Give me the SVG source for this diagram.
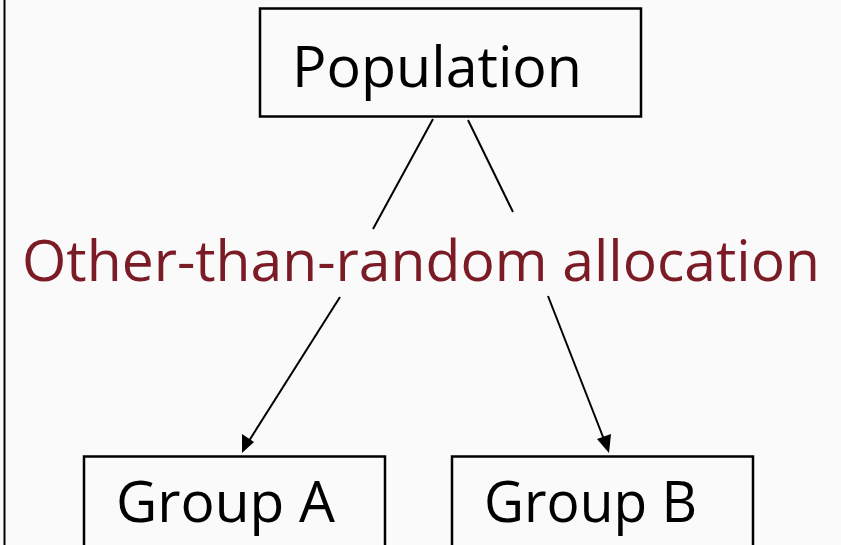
<svg xmlns="http://www.w3.org/2000/svg" width="841" height="545" viewBox="0 0 841 545">
  <style>
    .box { fill: none; stroke: #000; stroke-width: 2.5; }
    .lbl { font-family: "Open Sans", "Noto Sans", "Liberation Sans", sans-serif; font-size: 57px; fill: #000; }
    .red { fill: #7a1b25; }
    .edge { stroke: #000; stroke-width: 2; fill: none; }
  </style>
  <rect x="0" y="0" width="841" height="545" fill="#fafafa"/>
  <line x1="4.5" y1="0" x2="4.5" y2="545" stroke="#000" stroke-width="2"/>

  <g id="population">
    <rect class="box" x="260" y="8.5" width="381" height="108"/>
    <text class="lbl" x="292" y="87" textLength="290" lengthAdjust="spacingAndGlyphs">Population</text>
  </g>

  <g id="groupA">
    <rect class="box" x="84" y="456.5" width="301" height="100"/>
    <text class="lbl" x="116" y="522" textLength="219" lengthAdjust="spacingAndGlyphs">Group A</text>
  </g>

  <g id="groupB">
    <rect class="box" x="452" y="456.5" width="301" height="100"/>
    <text class="lbl" x="484" y="522" textLength="213" lengthAdjust="spacingAndGlyphs">Group B</text>
  </g>

  <g id="connectors">
    <line class="edge" x1="433" y1="119" x2="373" y2="229"/>
    <line class="edge" x1="340" y1="297" x2="247" y2="444"/>
    <path d="M242,453 L242,434 L254,442 z" fill="#000"/>
    <line class="edge" x1="468" y1="120" x2="513" y2="212"/>
    <line class="edge" x1="548" y1="296" x2="605" y2="442"/>
    <path d="M609,453 L597,439 L611,434 z" fill="#000"/>
  </g>

  <text class="lbl red" x="22" y="281" textLength="798" lengthAdjust="spacingAndGlyphs">Other-than-random allocation</text>
</svg>
